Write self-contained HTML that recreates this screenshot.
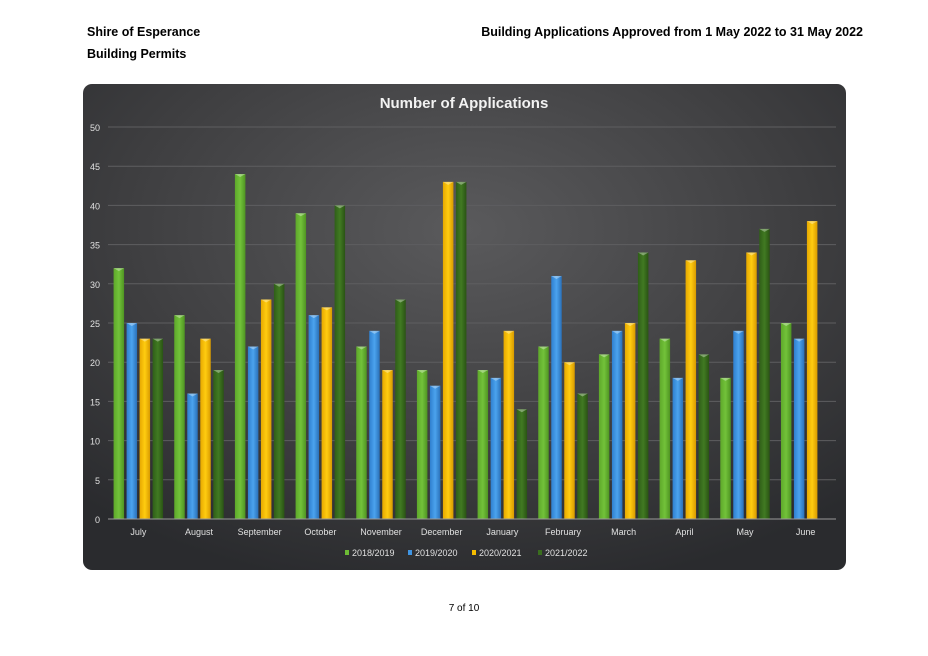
<!DOCTYPE html>
<html><head><meta charset="utf-8"><style>
body{margin:0;width:928px;height:656px;background:#fff;font-family:"Liberation Sans",sans-serif;position:relative;overflow:hidden}
.h{position:absolute;font-weight:bold;font-size:12.5px;color:#000}
</style></head><body>
<div class="h" style="left:87px;top:25px">Shire of Esperance</div>
<div class="h" style="left:87px;top:47px">Building Permits</div>
<div class="h" style="right:65px;top:25px">Building Applications Approved from 1 May 2022 to 31 May 2022</div>
<div style="position:absolute;left:0;width:928px;text-align:center;top:603px;font-size:10px">7 of 10</div>
<svg id="chart" width="928" height="656" style="position:absolute;left:0;top:0">
<defs>
<radialGradient id="bg" cx="0.5" cy="0.3" r="0.75">
<stop offset="0" stop-color="#5a5a5c"/><stop offset="0.6" stop-color="#3e3e40"/><stop offset="1" stop-color="#2a2b2e"/></radialGradient>
<linearGradient id="g0" x1="0" x2="1"><stop offset="0" stop-color="#5ea82a"/><stop offset="0.5" stop-color="#72c23a"/><stop offset="1" stop-color="#4f9422"/></linearGradient>
<linearGradient id="g1" x1="0" x2="1"><stop offset="0" stop-color="#2f7fcf"/><stop offset="0.5" stop-color="#4ba3ee"/><stop offset="1" stop-color="#2a70b8"/></linearGradient>
<linearGradient id="g2" x1="0" x2="1"><stop offset="0" stop-color="#e6a800"/><stop offset="0.5" stop-color="#ffcc10"/><stop offset="1" stop-color="#d89a00"/></linearGradient>
<linearGradient id="g3" x1="0" x2="1"><stop offset="0" stop-color="#2f5e18"/><stop offset="0.5" stop-color="#417a22"/><stop offset="1" stop-color="#2a5314"/></linearGradient>
</defs>
<rect x="83" y="84" width="763" height="486" rx="9" fill="url(#bg)"/>
<text x="464" y="108" text-anchor="middle" fill="#f2f2f2" font-size="15" font-weight="bold">Number of Applications</text>
<g id="grid"></g><g id="bars"></g><g id="axes"></g><g id="legend"></g>
</svg>
<script>
const categories=["July","August","September","October","November","December","January","February","March","April","May","June"];
const seriesNames=["2018/2019","2019/2020","2020/2021","2021/2022"];
const s2018=[32,26,44,39,22,19,19,22,21,23,18,25];
const s2019=[25,16,22,26,24,17,18,31,24,18,24,23];
const s2020=[23,23,28,27,19,43,24,20,25,33,34,38];
const s2021=[23,19,30,40,28,43,14,16,34,21,37,null];
const yTicks=[0,5,10,15,20,25,30,35,40,45,50];
const series=[s2018,s2019,s2020,s2021];
const colors=["#6dbb35","#3f95e3","#f6bd00","#3a6e1e"];
const NS="http://www.w3.org/2000/svg";
const x0=108,x1=836,yBase=519,yTop=127,yMax=50;
const y=v=>yBase-(v/yMax)*(yBase-yTop);
const bandW=(x1-x0)/categories.length;
const xc=i=>x0+bandW*(i+0.5);
const barW=10.5,pitch=13;
function mk(tag,attrs,parent){const e=document.createElementNS(NS,tag);for(const k in attrs)e.setAttribute(k,attrs[k]);parent.appendChild(e);return e;}
const grid=document.getElementById('grid'),axes=document.getElementById('axes'),bars=document.getElementById('bars'),legend=document.getElementById('legend');
yTicks.forEach(t=>{
  if(t>0){const l=mk('line',{x1:x0,x2:x1,y1:y(t),y2:y(t),stroke:'#5e5e60','stroke-width':1},grid);
  
  }
  const tx=mk('text',{x:100,y:y(t)+4,'text-anchor':'end',fill:'#e0e0e0','font-size':9},axes);
  tx.textContent=t;
  
  
});
const ax=mk('line',{x1:x0,x2:x1,y1:yBase,y2:yBase,stroke:'#9a9a9a','stroke-width':1},axes);


categories.forEach((c,i)=>{
  const tx=mk('text',{x:xc(i),y:535,'text-anchor':'middle',fill:'#e0e0e0','font-size':9},axes);
  tx.textContent=c;
  
  
  series.forEach((s,j)=>{
    const v=s[i]; if(v==null)return;
    const bx=xc(i)-2*pitch+j*pitch+(pitch-barW)/2;
    const r=mk('rect',{x:bx,y:y(v),width:barW,height:yBase-y(v),fill:'url(#g'+j+')'},bars);
    
    
    const cap=mk('polygon',{points:`${bx},${y(v)} ${bx+barW},${y(v)} ${bx+barW/2},${y(v)+3}`,fill:'rgba(255,255,255,0.35)'},bars);
    
    
  });
});
const lx=[345,408,472,538];
seriesNames.forEach((n,j)=>{
  const g=mk('g',{},legend);
  
  
  mk('rect',{x:lx[j],y:550,width:4,height:5,fill:colors[j]},g);
  const t=mk('text',{x:lx[j]+7,y:556,fill:'#e0e0e0','font-size':9},g);
  t.textContent=n;
});
</script>
</body></html>
